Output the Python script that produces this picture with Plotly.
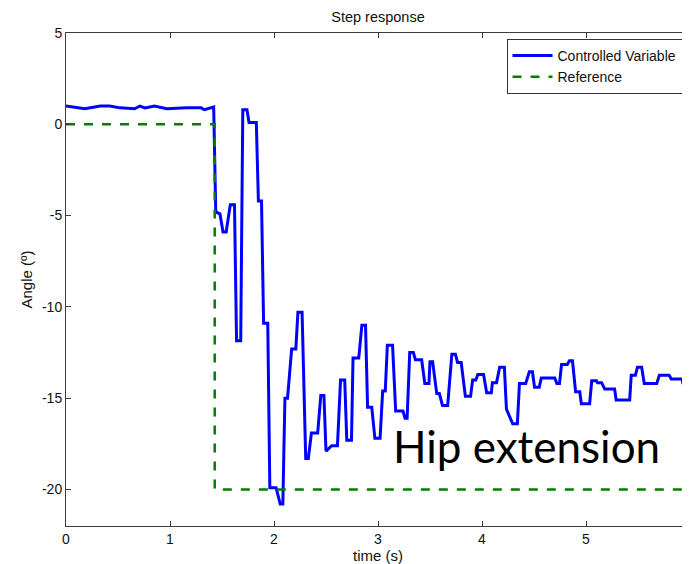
import plotly.graph_objects as go

# Controlled variable (time in s, angle in degrees)
cv_time = [0, 0.18, 0.33, 0.42, 0.52, 0.66, 0.71, 0.76, 0.85, 0.97, 1.16, 1.30, 1.33, 1.40, 1.42,
           1.44, 1.48, 1.51, 1.54, 1.58, 1.62, 1.64, 1.68, 1.70, 1.74, 1.76, 1.83, 1.85, 1.88,
           1.90, 1.94, 1.96, 2.02, 2.06, 2.085, 2.105, 2.13, 2.17, 2.21, 2.23, 2.27, 2.305, 2.33,
           2.36, 2.42, 2.45, 2.48, 2.50, 2.555, 2.61, 2.64, 2.68, 2.70, 2.745, 2.76, 2.815, 2.845,
           2.88, 2.90, 2.94, 2.97, 3.02, 3.045, 3.07, 3.09, 3.14, 3.17, 3.24, 3.26, 3.28, 3.305,
           3.34, 3.36, 3.42, 3.45, 3.49, 3.50, 3.525, 3.565, 3.59, 3.62, 3.67, 3.71, 3.745, 3.765,
           3.80, 3.84, 3.89, 3.91, 3.94, 3.96, 4.015, 4.045, 4.09, 4.10, 4.14, 4.17, 4.215, 4.235,
           4.295, 4.34, 4.36, 4.42, 4.455, 4.485, 4.505, 4.55, 4.57, 4.70, 4.72, 4.745, 4.765, 4.82,
           4.84, 4.87, 4.90, 4.94, 4.955, 5.035, 5.055, 5.10, 5.11, 5.15, 5.18, 5.275, 5.29, 5.42,
           5.435, 5.475, 5.495, 5.535, 5.56, 5.68, 5.705, 5.80, 5.82, 5.925, 5.93, 5.96, 5.98, 6.0]
cv_angle = [1.0, 0.85, 1.0, 1.0, 0.9, 0.85, 1.0, 0.9, 1.0, 0.85, 0.9, 0.9, 0.8, 0.95, 0.95,
            -4.8, -4.9, -5.9, -5.9, -4.4, -4.4, -11.85, -11.85, 0.8, 0.8, 0.1, 0.1, -4.2, -4.2,
            -10.9, -10.9, -19.9, -19.9, -20.8, -20.8, -15.0, -15.0, -12.3, -12.3, -10.3, -10.3, -18.3, -18.3,
            -16.9, -16.9, -14.85, -14.85, -17.9, -17.6, -17.6, -14.0, -14.0, -17.3, -17.3, -12.8, -12.8, -11.0,
            -11.0, -15.5, -15.5, -17.2, -17.2, -14.6, -14.6, -12.1, -12.1, -15.7, -15.7, -16.1, -16.1, -12.5,
            -12.5, -12.9, -12.9, -14.2, -14.2, -13.0, -13.0, -14.75, -14.75, -15.4, -15.4, -12.6, -12.6, -13.05,
            -13.05, -14.9, -14.9, -14.0, -14.0, -13.7, -13.7, -14.7, -14.7, -14.15, -14.15, -13.3, -13.3, -15.6,
            -16.4, -16.4, -14.2, -14.2, -13.55, -13.55, -14.4, -14.4, -13.9, -13.9, -14.2, -14.2, -13.15, -13.15,
            -12.95, -12.95, -14.65, -14.65, -15.3, -15.3, -14.05, -14.05, -14.15, -14.15, -14.5, -14.5, -15.1, -15.1,
            -13.75, -13.75, -13.3, -13.3, -14.2, -14.2, -13.75, -13.75, -13.95, -13.95, -14.15, -14.15, -15.25, -15.3]

# Reference step
ref_time = [0, 1.43, 1.43, 6.0]
ref_angle = [0, 0, -20, -20]

x_ticks = [0, 1, 2, 3, 4, 5, 6]
x_tick_labels = ["0", "1", "2", "3", "4", "5", "6"]
y_ticks = [-20, -15, -10, -5, 0, 5]
y_tick_labels = ["-20", "-15", "-10", "-5", "0", "5"]

font_main = "Liberation Sans, Arial, sans-serif"

fig = go.Figure()
fig.add_trace(go.Scatter(x=cv_time, y=cv_angle, mode="lines", name="Controlled Variable",
                         line=dict(color="#0000ff", width=3)))
fig.add_trace(go.Scatter(x=ref_time, y=ref_angle, mode="lines", name="Reference",
                         line=dict(color="#008000", width=2.5, dash="dash")))

axis_common = dict(showline=True, linecolor="#3c3c3c", linewidth=1, mirror="allticks",
                   ticks="inside", ticklen=5, tickcolor="#3c3c3c", showgrid=False, zeroline=False,
                   automargin=False, ticklabeloverflow="allow",
                   tickfont=dict(family=font_main, size=14, color="#111"))

fig.update_layout(
    width=682, height=556,
    margin=dict(l=58, r=0, t=25, b=38, autoexpand=False),
    paper_bgcolor="white", plot_bgcolor="white",
    title=dict(text="Step response", x=0.5425, xanchor="center", y=0.984, yanchor="middle",
               font=dict(family=font_main, size=14.5, color="#111")),
    xaxis=dict(range=[0, 6], tickvals=x_ticks, ticktext=x_tick_labels,
               title=dict(text="time (s)", standoff=3, font=dict(family=font_main, size=15, color="#111")),
               **axis_common),
    yaxis=dict(range=[-22, 5], tickvals=y_ticks, ticktext=y_tick_labels,
               title=dict(text="Angle (º)", standoff=5, font=dict(family=font_main, size=15, color="#111")),
               **axis_common),
    legend=dict(x=0.988, xanchor="right", y=0.988, yanchor="top", bgcolor="white",
                bordercolor="#333", borderwidth=1, font=dict(family=font_main, size=14, color="#111"),
                tracegroupgap=0, itemwidth=40),
    showlegend=True,
    annotations=[dict(text="Hip extension", x=4.43, y=-17.6, xref="x", yref="y",
                      showarrow=False, font=dict(family="Lato, sans-serif", size=44, color="black"))],
)

fig.write_html("out.html")
